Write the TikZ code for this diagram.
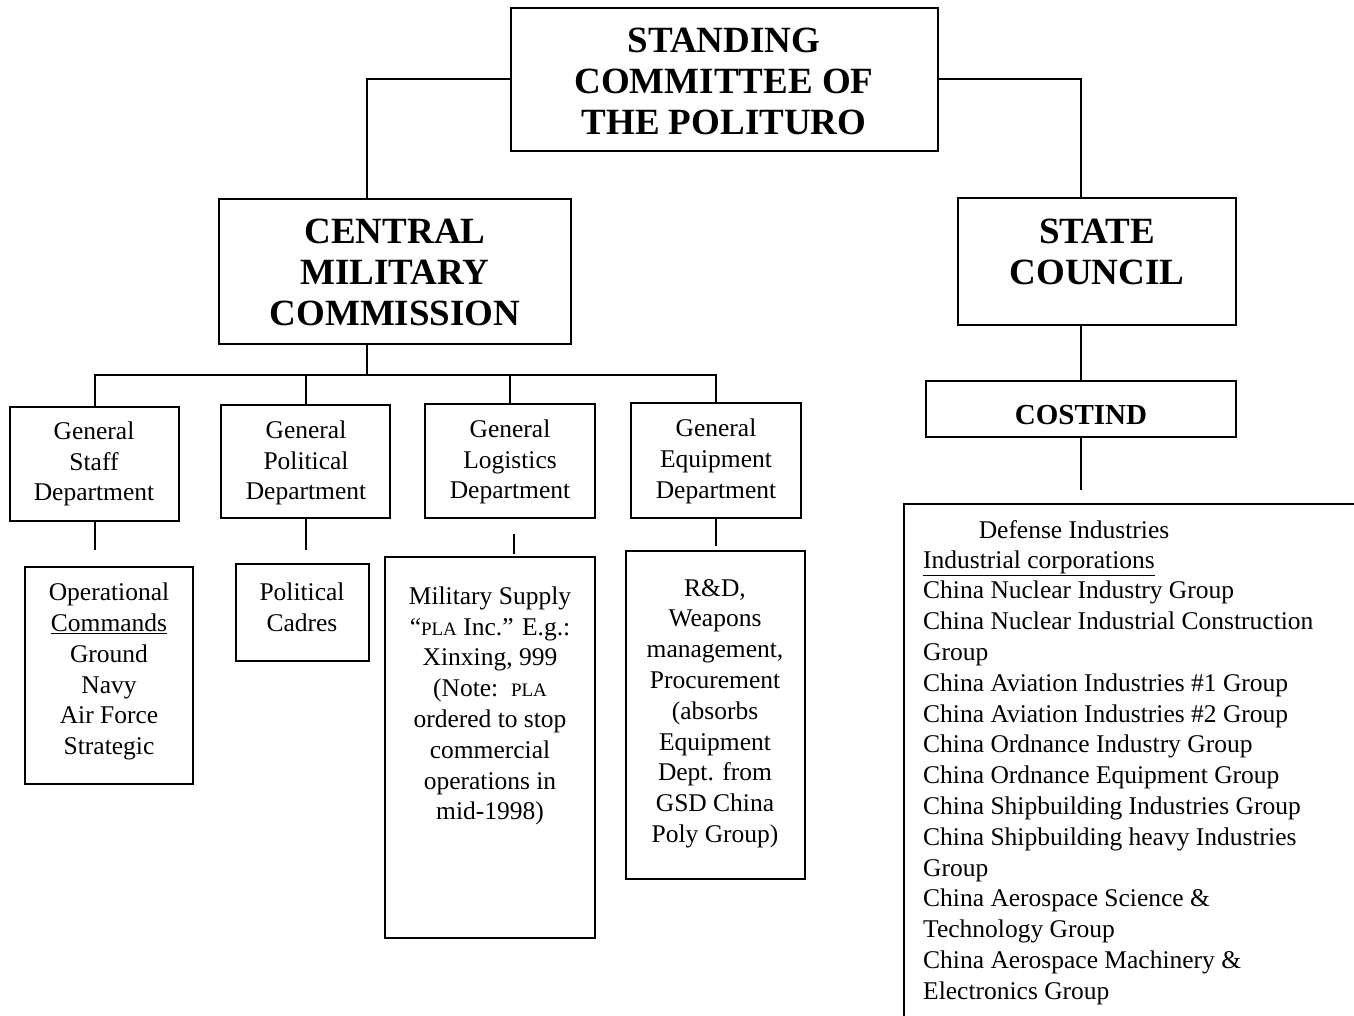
\documentclass[tikz,border=0pt]{standalone}
\usepackage{fontspec}
\setmainfont{Liberation Serif}
\newcommand{\bodyfont}{\fontsize{25.5}{30.8}\selectfont}
\newcommand{\headfont}{\fontsize{37}{41}\selectfont\bfseries}
\newcommand{\costfont}{\fontsize{29}{30}\selectfont\bfseries}
\newcommand{\smallcapsPLA}{{\fontsize{19}{20}\selectfont PLA}}
\begin{document}
\begin{tikzpicture}[x=1pt,y=-1pt,
  box/.style={draw, line width=2pt, inner sep=0pt},
  txt/.style={inner sep=0pt, align=center, font=\bodyfont},
  head/.style={inner sep=0pt, align=center, font=\headfont},
  conn/.style={line width=2pt}]
\useasboundingbox (0,0) rectangle (1354,1016);
\fill[white] (0,0) rectangle (1354,1016);
% boxes
\node[box, minimum width=427pt, minimum height=143pt] (top) at (724.5,79.5) {};
\node[box, minimum width=352pt, minimum height=145pt] (cmc) at (395,271.5) {};
\node[box, minimum width=278pt, minimum height=127pt] (sc) at (1097,261.5) {};
\node[box, minimum width=169pt, minimum height=114pt] (gsd) at (94.5,464) {};
\node[box, minimum width=169pt, minimum height=113pt] (gpd) at (305.5,461.5) {};
\node[box, minimum width=170pt, minimum height=114pt] (gld) at (510,461) {};
\node[box, minimum width=170pt, minimum height=115pt] (ged) at (716,460.5) {};
\node[box, minimum width=168pt, minimum height=217pt] (opc) at (109,675.5) {};
\node[box, minimum width=133pt, minimum height=97pt] (pc) at (302.5,612.5) {};
\node[box, minimum width=210pt, minimum height=381pt] (ms) at (490,747.5) {};
\node[box, minimum width=179pt, minimum height=328pt] (rd) at (715.5,715) {};
\node[box, minimum width=310pt, minimum height=56pt] (cost) at (1081,409) {};
\begin{scope}
\clip (0,0) rectangle (1354,1016);
\node[box, minimum width=480pt, minimum height=560pt, anchor=north west] (def) at (903,503) {};
\end{scope}
% texts
\node[head] (topt) at (724,81) {STANDING\\COMMITTEE OF\\THE POLITURO};
\node[head] (cmct) at (395,272) {CENTRAL\\MILITARY\\COMMISSION};
\node[head] (sct) at (1097,251.5) {STATE\\COUNCIL};
\node[inner sep=0pt, font=\costfont] (costt) at (1081,415) {COSTIND};
\node[txt] (gsdt) at (94,464) {General\\Staff\\Department};
\node[txt] (gpdt) at (306,463) {General\\Political\\Department};
\node[txt] (gldt) at (510,462) {General\\Logistics\\Department};
\node[txt] (gedt) at (716,461.5) {General\\Equipment\\Department};
\node[txt] (opct) at (109,671.5) {Operational\\\underline{Commands}\\Ground\\Navy\\Air Force\\Strategic};
\node[txt] (pct) at (302,607) {Political\\Cadres};
\node[txt] (mst) at (490,706) {Military Supply\\``\smallcapsPLA{} Inc.'' E.g.:\\Xinxing, 999\\(Note:\ \ \smallcapsPLA\\ordered to stop\\commercial\\operations in\\mid-1998)};
\node[txt] (rdt) at (715,713.5) {R\&D,\\Weapons\\management,\\Procurement\\(absorbs\\Equipment\\Dept. from\\GSD China\\Poly Group)};
\node[txt] (defh) at (1074,530) {Defense Industries};
\node[inner sep=0pt, align=left, font=\bodyfont, anchor=west] (defl) at (923,777.5) {\underline{Industrial corporations}\\China Nuclear Industry Group\\China Nuclear Industrial Construction\\Group\\China Aviation Industries \#1 Group\\China Aviation Industries \#2 Group\\China Ordnance Industry Group\\China Ordnance Equipment Group\\China Shipbuilding Industries Group\\China Shipbuilding heavy Industries\\Group\\China Aerospace Science \&\\Technology Group\\China Aerospace Machinery \&\\Electronics Group};
% coordinates
\coordinate (x367) at (367,0);
\coordinate (x1081) at (1081,0);
\coordinate (bus) at (0,375);
\coordinate (gsdE) at (94.5,550);
\coordinate (gpdE) at (305.5,550);
\coordinate (gldA) at (514,534);
\coordinate (gldB) at (514,554);
\coordinate (gedE) at (716,546);
\coordinate (costE) at (1081,490);
% connectors
\draw[conn] (top.west) -| (cmc.north -| x367);
\draw[conn] (top.east) -| (sc.north -| x1081);
\draw[conn] (cmc.south -| x367) -- (bus -| x367);
\draw[conn] (gsd.north) -- (gsd.north |- bus) -- (ged.north |- bus) -- (ged.north);
\draw[conn] (gpd.north) -- (gpd.north |- bus);
\draw[conn] (gld.north) -- (gld.north |- bus);
\draw[conn] (gsd.south) -- (gsdE);
\draw[conn] (gpd.south) -- (gpdE);
\draw[conn] (gldA) -- (gldB);
\draw[conn] (ged.south) -- (gedE);
\draw[conn] (sc.south -| x1081) -- (cost.north -| x1081);
\draw[conn] (cost.south) -- (costE);
\end{tikzpicture}
\end{document}
